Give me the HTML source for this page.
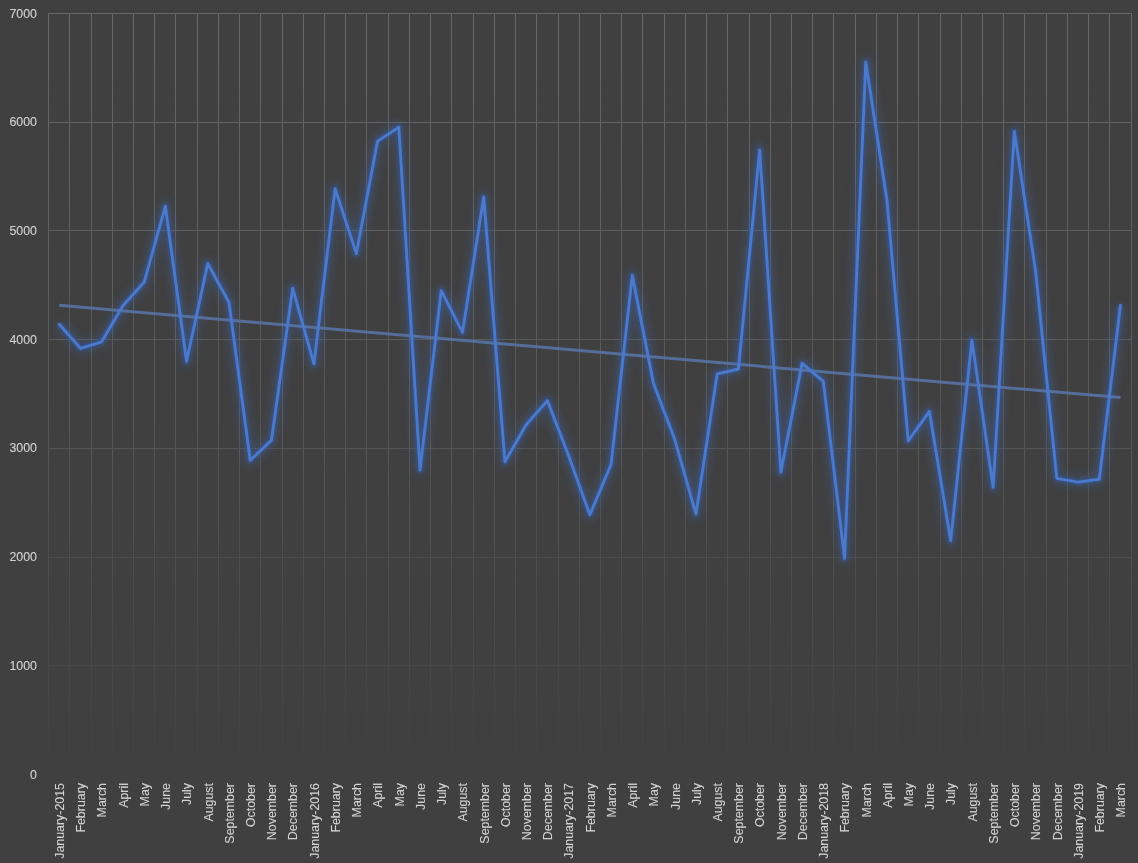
<!DOCTYPE html>
<html><head><meta charset="utf-8"><style>
html,body{margin:0;padding:0;background:#404040;}
body{width:1138px;height:863px;overflow:hidden;}
svg{display:block;will-change:transform;}
text{font-family:"Liberation Sans",sans-serif;font-size:12.4px;fill:#d2d2d2;stroke:#d2d2d2;stroke-width:0.1px;}
</style></head><body>
<svg width="1138" height="863" viewBox="0 0 1138 863">
<defs>
<linearGradient id="fade" x1="0" y1="13.5" x2="0" y2="752" gradientUnits="userSpaceOnUse">
<stop offset="0" stop-color="#686868"/>
<stop offset="0.5" stop-color="#595959"/>
<stop offset="0.8" stop-color="#4b4b4b"/>
<stop offset="1" stop-color="#424242"/>
</linearGradient>
<filter id="glow" x="-20%" y="-20%" width="140%" height="140%">
<feGaussianBlur in="SourceGraphic" stdDeviation="4"/>
</filter>
<filter id="glow2" x="-20%" y="-20%" width="140%" height="140%">
<feGaussianBlur in="SourceGraphic" stdDeviation="1.2"/>
</filter>
</defs>
<rect width="1138" height="863" fill="#404040"/>
<g stroke="url(#fade)" stroke-width="1" fill="none">
<line x1="48" y1="13.5" x2="1132" y2="13.5"/><line x1="48" y1="122.5" x2="1132" y2="122.5"/><line x1="48" y1="230.5" x2="1132" y2="230.5"/><line x1="48" y1="339.5" x2="1132" y2="339.5"/><line x1="48" y1="448.5" x2="1132" y2="448.5"/><line x1="48" y1="557.5" x2="1132" y2="557.5"/><line x1="48" y1="665.5" x2="1132" y2="665.5"/><line x1="48.5" y1="13" x2="48.5" y2="752"/><line x1="69.5" y1="13" x2="69.5" y2="752"/><line x1="91.5" y1="13" x2="91.5" y2="752"/><line x1="112.5" y1="13" x2="112.5" y2="752"/><line x1="133.5" y1="13" x2="133.5" y2="752"/><line x1="154.5" y1="13" x2="154.5" y2="752"/><line x1="175.5" y1="13" x2="175.5" y2="752"/><line x1="197.5" y1="13" x2="197.5" y2="752"/><line x1="218.5" y1="13" x2="218.5" y2="752"/><line x1="239.5" y1="13" x2="239.5" y2="752"/><line x1="260.5" y1="13" x2="260.5" y2="752"/><line x1="282.5" y1="13" x2="282.5" y2="752"/><line x1="303.5" y1="13" x2="303.5" y2="752"/><line x1="324.5" y1="13" x2="324.5" y2="752"/><line x1="345.5" y1="13" x2="345.5" y2="752"/><line x1="366.5" y1="13" x2="366.5" y2="752"/><line x1="388.5" y1="13" x2="388.5" y2="752"/><line x1="409.5" y1="13" x2="409.5" y2="752"/><line x1="430.5" y1="13" x2="430.5" y2="752"/><line x1="451.5" y1="13" x2="451.5" y2="752"/><line x1="473.5" y1="13" x2="473.5" y2="752"/><line x1="494.5" y1="13" x2="494.5" y2="752"/><line x1="515.5" y1="13" x2="515.5" y2="752"/><line x1="536.5" y1="13" x2="536.5" y2="752"/><line x1="558.5" y1="13" x2="558.5" y2="752"/><line x1="579.5" y1="13" x2="579.5" y2="752"/><line x1="600.5" y1="13" x2="600.5" y2="752"/><line x1="621.5" y1="13" x2="621.5" y2="752"/><line x1="642.5" y1="13" x2="642.5" y2="752"/><line x1="664.5" y1="13" x2="664.5" y2="752"/><line x1="685.5" y1="13" x2="685.5" y2="752"/><line x1="706.5" y1="13" x2="706.5" y2="752"/><line x1="727.5" y1="13" x2="727.5" y2="752"/><line x1="749.5" y1="13" x2="749.5" y2="752"/><line x1="770.5" y1="13" x2="770.5" y2="752"/><line x1="791.5" y1="13" x2="791.5" y2="752"/><line x1="812.5" y1="13" x2="812.5" y2="752"/><line x1="833.5" y1="13" x2="833.5" y2="752"/><line x1="855.5" y1="13" x2="855.5" y2="752"/><line x1="876.5" y1="13" x2="876.5" y2="752"/><line x1="897.5" y1="13" x2="897.5" y2="752"/><line x1="918.5" y1="13" x2="918.5" y2="752"/><line x1="940.5" y1="13" x2="940.5" y2="752"/><line x1="961.5" y1="13" x2="961.5" y2="752"/><line x1="982.5" y1="13" x2="982.5" y2="752"/><line x1="1003.5" y1="13" x2="1003.5" y2="752"/><line x1="1024.5" y1="13" x2="1024.5" y2="752"/><line x1="1046.5" y1="13" x2="1046.5" y2="752"/><line x1="1067.5" y1="13" x2="1067.5" y2="752"/><line x1="1088.5" y1="13" x2="1088.5" y2="752"/><line x1="1109.5" y1="13" x2="1109.5" y2="752"/><line x1="1131.5" y1="13" x2="1131.5" y2="752"/>
</g>
<polyline points="59.20,324.30 80.43,348.30 101.65,341.80 122.88,305.80 144.11,282.30 165.33,206.30 186.56,361.30 207.78,263.50 229.01,302.50 250.23,460.30 271.46,440.30 292.68,288.40 313.91,363.80 335.14,188.80 356.36,253.60 377.59,141.10 398.81,127.20 420.04,469.80 441.26,290.70 462.49,332.40 483.71,197.00 504.94,461.80 526.17,424.80 547.39,400.60 568.62,455.80 589.84,514.80 611.07,464.40 632.29,275.40 653.52,383.60 674.75,439.60 695.97,514.10 717.20,373.90 738.42,369.00 759.65,150.00 780.87,472.20 802.10,363.30 823.32,381.30 844.55,558.30 865.78,62.30 887.00,200.80 908.23,440.80 929.45,411.40 950.68,540.80 971.90,340.10 993.13,487.30 1014.35,131.40 1035.58,271.00 1056.81,478.40 1078.03,482.10 1099.26,479.30 1120.48,305.30" fill="none" stroke="#4472c4" stroke-opacity="0.22" stroke-width="12" stroke-linejoin="round" filter="url(#glow)"/>
<polyline points="59.20,324.30 80.43,348.30 101.65,341.80 122.88,305.80 144.11,282.30 165.33,206.30 186.56,361.30 207.78,263.50 229.01,302.50 250.23,460.30 271.46,440.30 292.68,288.40 313.91,363.80 335.14,188.80 356.36,253.60 377.59,141.10 398.81,127.20 420.04,469.80 441.26,290.70 462.49,332.40 483.71,197.00 504.94,461.80 526.17,424.80 547.39,400.60 568.62,455.80 589.84,514.80 611.07,464.40 632.29,275.40 653.52,383.60 674.75,439.60 695.97,514.10 717.20,373.90 738.42,369.00 759.65,150.00 780.87,472.20 802.10,363.30 823.32,381.30 844.55,558.30 865.78,62.30 887.00,200.80 908.23,440.80 929.45,411.40 950.68,540.80 971.90,340.10 993.13,487.30 1014.35,131.40 1035.58,271.00 1056.81,478.40 1078.03,482.10 1099.26,479.30 1120.48,305.30" fill="none" stroke="#33589f" stroke-opacity="0.5" stroke-width="7" stroke-linejoin="round" filter="url(#glow2)"/>
<line x1="59.20" y1="305.29" x2="1120.48" y2="397.59" stroke="#5876aa" stroke-opacity="0.85" stroke-width="3"/>
<polyline points="59.20,324.30 80.43,348.30 101.65,341.80 122.88,305.80 144.11,282.30 165.33,206.30 186.56,361.30 207.78,263.50 229.01,302.50 250.23,460.30 271.46,440.30 292.68,288.40 313.91,363.80 335.14,188.80 356.36,253.60 377.59,141.10 398.81,127.20 420.04,469.80 441.26,290.70 462.49,332.40 483.71,197.00 504.94,461.80 526.17,424.80 547.39,400.60 568.62,455.80 589.84,514.80 611.07,464.40 632.29,275.40 653.52,383.60 674.75,439.60 695.97,514.10 717.20,373.90 738.42,369.00 759.65,150.00 780.87,472.20 802.10,363.30 823.32,381.30 844.55,558.30 865.78,62.30 887.00,200.80 908.23,440.80 929.45,411.40 950.68,540.80 971.90,340.10 993.13,487.30 1014.35,131.40 1035.58,271.00 1056.81,478.40 1078.03,482.10 1099.26,479.30 1120.48,305.30" fill="none" stroke="#4b79cb" stroke-width="2.9" stroke-linejoin="round" stroke-linecap="round"/>
<text x="37" y="17.50" text-anchor="end">7000</text><text x="37" y="125.50" text-anchor="end">6000</text><text x="37" y="234.50" text-anchor="end">5000</text><text x="37" y="343.50" text-anchor="end">4000</text><text x="37" y="451.50" text-anchor="end">3000</text><text x="37" y="560.50" text-anchor="end">2000</text><text x="37" y="669.50" text-anchor="end">1000</text><text x="37" y="778.50" text-anchor="end">0</text>
<text transform="translate(64.00,783) rotate(-90)" text-anchor="end">January-2015</text><text transform="translate(85.23,783) rotate(-90)" text-anchor="end">February</text><text transform="translate(106.45,783) rotate(-90)" text-anchor="end">March</text><text transform="translate(127.68,783) rotate(-90)" text-anchor="end">April</text><text transform="translate(148.91,783) rotate(-90)" text-anchor="end">May</text><text transform="translate(170.13,783) rotate(-90)" text-anchor="end">June</text><text transform="translate(191.36,783) rotate(-90)" text-anchor="end">July</text><text transform="translate(212.58,783) rotate(-90)" text-anchor="end">August</text><text transform="translate(233.81,783) rotate(-90)" text-anchor="end">September</text><text transform="translate(255.03,783) rotate(-90)" text-anchor="end">October</text><text transform="translate(276.26,783) rotate(-90)" text-anchor="end">November</text><text transform="translate(297.48,783) rotate(-90)" text-anchor="end">December</text><text transform="translate(318.71,783) rotate(-90)" text-anchor="end">January-2016</text><text transform="translate(339.94,783) rotate(-90)" text-anchor="end">February</text><text transform="translate(361.16,783) rotate(-90)" text-anchor="end">March</text><text transform="translate(382.39,783) rotate(-90)" text-anchor="end">April</text><text transform="translate(403.61,783) rotate(-90)" text-anchor="end">May</text><text transform="translate(424.84,783) rotate(-90)" text-anchor="end">June</text><text transform="translate(446.06,783) rotate(-90)" text-anchor="end">July</text><text transform="translate(467.29,783) rotate(-90)" text-anchor="end">August</text><text transform="translate(488.51,783) rotate(-90)" text-anchor="end">September</text><text transform="translate(509.74,783) rotate(-90)" text-anchor="end">October</text><text transform="translate(530.97,783) rotate(-90)" text-anchor="end">November</text><text transform="translate(552.19,783) rotate(-90)" text-anchor="end">December</text><text transform="translate(573.42,783) rotate(-90)" text-anchor="end">January-2017</text><text transform="translate(594.64,783) rotate(-90)" text-anchor="end">February</text><text transform="translate(615.87,783) rotate(-90)" text-anchor="end">March</text><text transform="translate(637.09,783) rotate(-90)" text-anchor="end">April</text><text transform="translate(658.32,783) rotate(-90)" text-anchor="end">May</text><text transform="translate(679.55,783) rotate(-90)" text-anchor="end">June</text><text transform="translate(700.77,783) rotate(-90)" text-anchor="end">July</text><text transform="translate(722.00,783) rotate(-90)" text-anchor="end">August</text><text transform="translate(743.22,783) rotate(-90)" text-anchor="end">September</text><text transform="translate(764.45,783) rotate(-90)" text-anchor="end">October</text><text transform="translate(785.67,783) rotate(-90)" text-anchor="end">November</text><text transform="translate(806.90,783) rotate(-90)" text-anchor="end">December</text><text transform="translate(828.12,783) rotate(-90)" text-anchor="end">January-2018</text><text transform="translate(849.35,783) rotate(-90)" text-anchor="end">February</text><text transform="translate(870.58,783) rotate(-90)" text-anchor="end">March</text><text transform="translate(891.80,783) rotate(-90)" text-anchor="end">April</text><text transform="translate(913.03,783) rotate(-90)" text-anchor="end">May</text><text transform="translate(934.25,783) rotate(-90)" text-anchor="end">June</text><text transform="translate(955.48,783) rotate(-90)" text-anchor="end">July</text><text transform="translate(976.70,783) rotate(-90)" text-anchor="end">August</text><text transform="translate(997.93,783) rotate(-90)" text-anchor="end">September</text><text transform="translate(1019.15,783) rotate(-90)" text-anchor="end">October</text><text transform="translate(1040.38,783) rotate(-90)" text-anchor="end">November</text><text transform="translate(1061.61,783) rotate(-90)" text-anchor="end">December</text><text transform="translate(1082.83,783) rotate(-90)" text-anchor="end">January-2019</text><text transform="translate(1104.06,783) rotate(-90)" text-anchor="end">February</text><text transform="translate(1125.28,783) rotate(-90)" text-anchor="end">March</text>
</svg>
</body></html>
